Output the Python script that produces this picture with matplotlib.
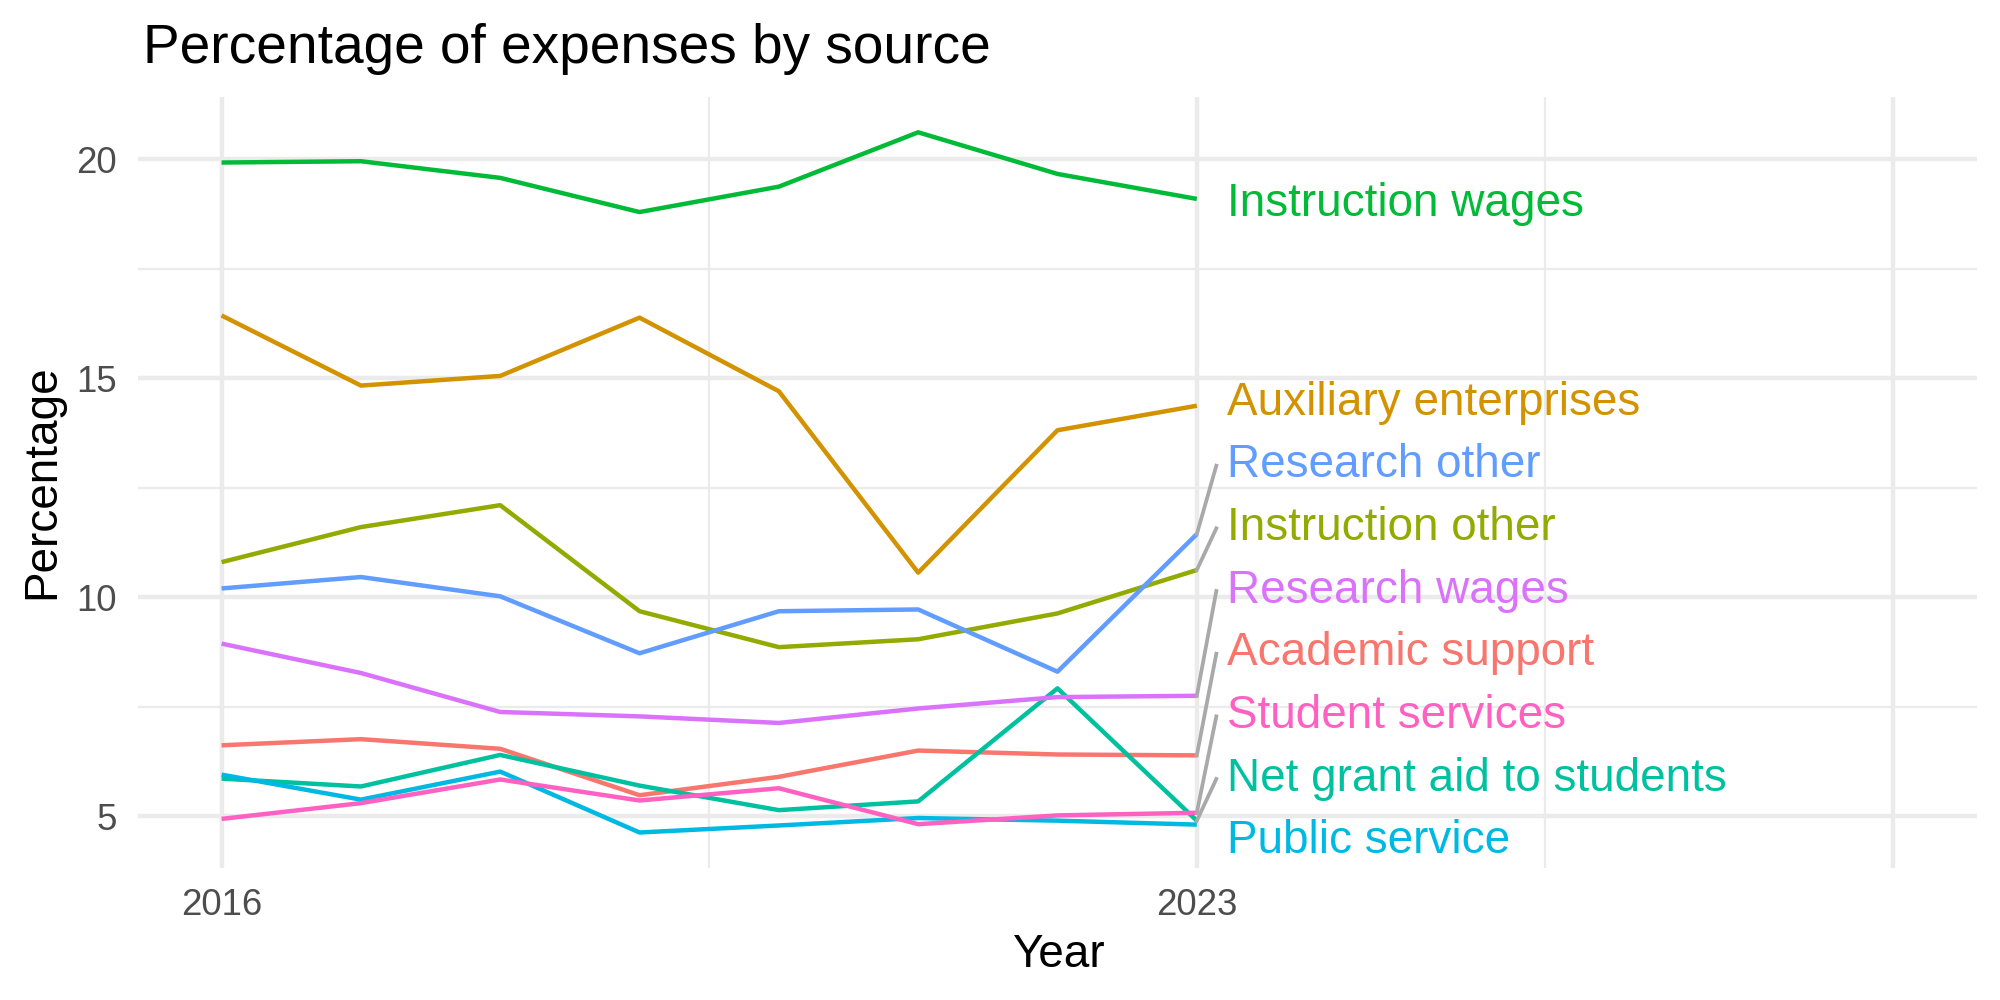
import numpy as np
import matplotlib
matplotlib.use("Agg")
import matplotlib.pyplot as plt

plt.rcParams['font.family'] = ['Liberation Sans', 'DejaVu Sans']

years = [2016, 2017, 2018, 2019, 2020, 2021, 2022, 2023]

sources = [
    "Academic support", "Auxiliary enterprises", "Instruction other",
    "Instruction wages", "Net grant aid to students", "Public service",
    "Research other", "Research wages", "Student services",
]

academic_support      = [6.62, 6.76, 6.54, 5.48, 5.90, 6.50, 6.41, 6.39]
auxiliary_enterprises = [16.43, 14.83, 15.05, 16.38, 14.70, 10.56, 13.81, 14.37]
instruction_other     = [10.80, 11.60, 12.10, 9.68, 8.86, 9.04, 9.63, 10.62]
instruction_wages     = [19.92, 19.95, 19.57, 18.79, 19.37, 20.61, 19.66, 19.09]
net_grant_aid         = [5.86, 5.68, 6.40, 5.70, 5.14, 5.34, 7.92, 4.90]
public_service        = [5.95, 5.38, 6.02, 4.63, 4.79, 4.96, 4.90, 4.81]
research_other        = [10.20, 10.46, 10.02, 8.72, 9.68, 9.72, 8.30, 11.44]
research_wages        = [8.94, 8.27, 7.38, 7.28, 7.13, 7.46, 7.72, 7.75]
student_services      = [4.94, 5.30, 5.84, 5.36, 5.64, 4.82, 5.02, 5.08]

series = [academic_support, auxiliary_enterprises, instruction_other,
          instruction_wages, net_grant_aid, public_service,
          research_other, research_wages, student_services]

# ggplot hue palette, 9 levels
colors = ["#F8766D", "#D39200", "#93AA00", "#00BA38", "#00C19F",
          "#00B9E3", "#619CFF", "#DB72FB", "#FF61C3"]

x_major = [2016, 2023, 2028]
x_labels = ["2016", "2023", ""]
x_minor = [2019.5, 2025.5]
y_major = [5, 10, 15, 20]
y_minor = [7.5, 12.5, 17.5]

fig = plt.figure(figsize=(2000 / 300, 1000 / 300), dpi=300)
ax = fig.add_axes([0.069, 0.1325, 0.9195, 0.7702])

# limits with ggplot style 5% expansion
all_vals = np.concatenate([np.array(s) for s in series])
lo, hi = all_vals.min(), all_vals.max()
ypad = 0.05 * (hi - lo)
ax.set_ylim(lo - ypad, hi + ypad)
xpad = 0.05 * (x_major[-1] - x_major[0])
ax.set_xlim(x_major[0] - xpad, x_major[-1] + xpad)

for s in ax.spines.values():
    s.set_visible(False)
ax.set_xticks(x_major)
ax.set_xticklabels(x_labels)
ax.set_xticks(x_minor, minor=True)
ax.set_yticks(y_major)
ax.set_yticks(y_minor, minor=True)
ax.tick_params(which="both", length=0)
ax.tick_params(axis="x", labelsize=8.8, labelcolor="#4D4D4D", pad=4.9)
ax.tick_params(axis="y", labelsize=8.8, labelcolor="#4D4D4D", pad=5)
ax.grid(which="major", color="#EBEBEB", linewidth=1.06)
ax.grid(which="minor", color="#EBEBEB", linewidth=0.53)
ax.set_axisbelow(True)

for vals, col in zip(series, colors):
    ax.plot(years, vals, color=col, linewidth=1.07, solid_capstyle="butt")

# simple 1D repel of end labels
label_gap = 1.43
ylo, yhi = ax.get_ylim()
bound_lo, bound_hi = ylo + 0.71, yhi - 0.71
ends = np.array([s[-1] for s in series])
order = np.argsort(ends)
groups = [[i] for i in order]

def place(g):
    c = ends[g].mean()
    bottom = c - (len(g) - 1) / 2 * label_gap
    bottom = max(bottom, bound_lo)
    bottom = min(bottom, bound_hi - (len(g) - 1) * label_gap)
    return bottom

merged = True
while merged:
    merged = False
    for k in range(len(groups) - 1):
        g1, g2 = groups[k], groups[k + 1]
        top1 = place(g1) + (len(g1) - 1) * label_gap
        if place(g2) - top1 < label_gap:
            groups[k] = g1 + g2
            del groups[k + 1]
            merged = True
            break

label_y = np.zeros(len(series))
for g in groups:
    b = place(g)
    for j, idx in enumerate(g):
        label_y[idx] = b + j * label_gap

x_end = years[-1]
for name, val, ly, col in zip(sources, ends, label_y, colors):
    if abs(ly - val) > 0.5:
        ax.plot([x_end, x_end + 0.14], [val, ly - 0.12 * np.sign(ly - val)],
                color="#A9A9A9", linewidth=0.9, clip_on=False)
    ax.text(x_end + 0.22, ly - 0.11, name, color=col, fontsize=11,
            ha="left", va="center", clip_on=False)

fig.text(143 / 2000, 1 - 63 / 1000, "Percentage of expenses by source",
         fontsize=13.2, ha="left", va="baseline", color="black")
fig.text(42 / 2000, 1 - 482 / 1000, "Percentage", fontsize=11,
         rotation=90, ha="center", va="center", color="black")
fig.text(1058 / 2000, 1 - 955 / 1000, "Year", fontsize=11,
         ha="center", va="center", color="black")

fig.savefig("out.png", dpi=300, facecolor="white")
